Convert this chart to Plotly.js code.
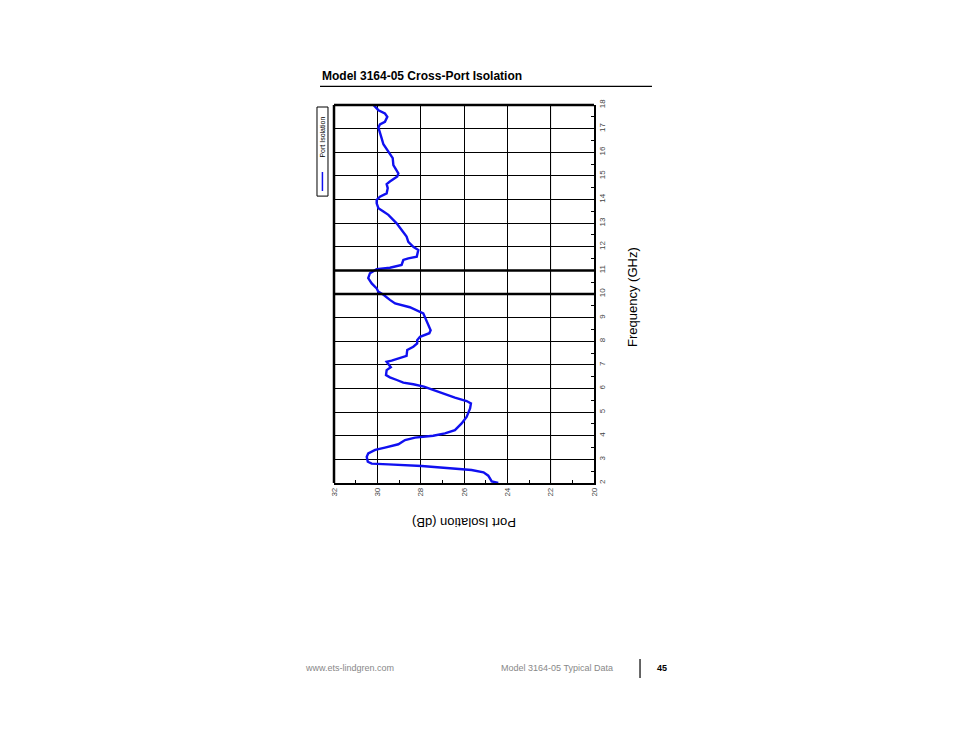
<!DOCTYPE html>
<html>
<head>
<meta charset="utf-8">
<script src="https://cdn.plot.ly/plotly-3.0.1.min.js"></script>
<style>html,body{margin:0;padding:0;background:#fff;}#chart{width:954px;height:738px;}</style>
</head>
<body>
<div id="chart"></div>
<script>
// Frequency (GHz) and port isolation (dB)
const frequencyGHz = [2.0, 2.07, 2.31, 2.45, 2.55, 2.62, 2.72, 2.79, 2.82, 2.9, 3.11, 3.25, 3.4, 3.5, 3.64, 3.82, 3.92, 4.0, 4.1, 4.24, 4.52, 4.8, 5.16, 5.37, 5.47, 5.61, 5.8, 5.94, 6.08, 6.18, 6.25, 6.36, 6.47, 6.57, 6.78, 6.9, 7.13, 7.18, 7.28, 7.38, 7.63, 7.77, 7.91, 8.05, 8.19, 8.34, 8.47, 8.83, 9.18, 9.44, 9.53, 9.6, 9.75, 9.96, 10.1, 10.24, 10.45, 10.67, 10.88, 11.05, 11.11, 11.23, 11.44, 11.51, 11.58, 11.86, 12.0, 12.21, 12.43, 12.64, 12.85, 12.99, 13.2, 13.35, 13.49, 13.63, 13.84, 13.98, 14.12, 14.26, 14.48, 14.65, 14.76, 14.97, 15.11, 15.29, 15.46, 15.75, 15.96, 16.17, 16.34, 16.59, 16.87, 17.04, 17.18, 17.29, 17.5, 17.64, 17.78, 17.92, 18.0];
const isolationDB = [24.42, 24.72, 24.88, 25.1, 25.65, 26.57, 27.95, 29.49, 30.26, 30.44, 30.49, 30.42, 30.1, 29.65, 29.03, 28.72, 28.26, 27.42, 26.88, 26.42, 26.11, 25.88, 25.72, 25.68, 25.88, 26.42, 27.03, 27.49, 27.85, 28.34, 28.8, 29.1, 29.42, 29.6, 29.57, 29.38, 29.57, 29.34, 29.03, 28.65, 28.62, 28.34, 28.16, 28.16, 28.03, 27.6, 27.54, 27.72, 27.88, 28.5, 28.95, 29.18, 29.42, 29.7, 29.96, 30.03, 30.26, 30.42, 30.34, 30.03, 29.42, 28.88, 28.8, 28.57, 28.18, 28.11, 28.34, 28.57, 28.65, 28.8, 28.99, 29.11, 29.34, 29.49, 29.72, 29.95, 30.03, 30.03, 29.88, 29.57, 29.52, 29.57, 29.42, 29.08, 29.03, 29.14, 29.26, 29.29, 29.45, 29.57, 29.72, 29.8, 29.88, 29.95, 29.88, 29.65, 29.54, 29.65, 29.95, 30.1, 30.18];
const seriesName = 'Port Isolation';
const isoTicks = [32, 30, 28, 26, 24, 22, 20];
const freqTicks = [2, 3, 4, 5, 6, 7, 8, 9, 10, 11, 12, 13, 14, 15, 16, 17, 18];
const heavyFreqLines = [10, 11];

const FONT = 'Liberation Sans, Arial, sans-serif';

const trace = {
  x: isolationDB, y: frequencyGHz, type: 'scatter', mode: 'lines', name: seriesName,
  line: {color: '#1010f0', width: 2.4}, showlegend: false
};

const shapes = [];
heavyFreqLines.forEach(f => shapes.push({type:'line', xref:'paper', yref:'y', x0:0, x1:1, y0:f, y1:f, line:{color:'#000', width:2.5}, layer:'above'}));
// gray 22 dB gridline
shapes.push({type:'line', xref:'x', yref:'paper', x0:22, x1:22, y0:0, y1:1, line:{color:'#888', width:1}, layer:'below'});
// thick top and left borders
shapes.push({type:'line', xref:'paper', yref:'paper', x0:0, x1:1, y0:1, y1:1, line:{color:'#000', width:2.5}});
shapes.push({type:'line', xref:'paper', yref:'paper', x0:0, x1:0, y0:0, y1:1, line:{color:'#000', width:2.5}});
// legend box and sample
shapes.push({type:'rect', xref:'paper', yref:'paper', x0:-0.0654, x1:-0.0231, y0:0.759, y1:0.9947, line:{color:'#000', width:1}});
shapes.push({type:'line', xref:'paper', yref:'paper', x0:-0.0445, x1:-0.0445, y0:0.7725, y1:0.8228, line:{color:'#1010f0', width:1.5}});
// title rule
shapes.push({type:'line', xref:'paper', yref:'paper', x0:-0.0538, x1:1.223, y0:1.0494, y1:1.0494, line:{color:'#000', width:1.2}});
// footer bar
shapes.push({type:'line', xref:'paper', yref:'paper', x0:1.177, x1:1.177, y0:-0.4656, y1:-0.5159, line:{color:'#000', width:1.2}});

const annotations = [
  {text:'<b>Model 3164-05 Cross-Port Isolation</b>', xref:'paper', yref:'paper', x:-0.0538, y:1.0767, xanchor:'left', yanchor:'middle', showarrow:false, font:{family:FONT, size:12, color:'#000'}},
  {text:'Port Isolation (dB)', xref:'paper', yref:'paper', x:0.5, y:-0.106, xanchor:'center', yanchor:'middle', textangle:180, showarrow:false, font:{family:FONT, size:13, color:'#000'}},
  {text:'Frequency (GHz)', xref:'paper', yref:'paper', x:1.146, y:0.492, xanchor:'center', yanchor:'middle', textangle:-90, showarrow:false, font:{family:FONT, size:13, color:'#000'}},
  {text:seriesName, xref:'paper', yref:'paper', x:-0.0445, y:0.915, xanchor:'center', yanchor:'middle', textangle:-90, showarrow:false, font:{family:FONT, size:7, color:'#000'}},
  {text:'www.ets-lindgren.com', xref:'paper', yref:'paper', x:0.0615, y:-0.4894, xanchor:'center', yanchor:'middle', showarrow:false, font:{family:FONT, size:9, color:'#888'}},
  {text:'Model 3164-05 Typical Data', xref:'paper', yref:'paper', x:0.8577, y:-0.4894, xanchor:'center', yanchor:'middle', showarrow:false, font:{family:FONT, size:9, color:'#888'}},
  {text:'<b>45</b>', xref:'paper', yref:'paper', x:1.262, y:-0.4894, xanchor:'center', yanchor:'middle', showarrow:false, font:{family:FONT, size:9, color:'#000'}}
];

const layout = {
  width: 954, height: 738,
  margin: {l:334, r:360, t:105, b:255, pad:0},
  paper_bgcolor:'#fff', plot_bgcolor:'#fff',
  showlegend:false,
  xaxis: {
    range:[32, 20], tickvals:isoTicks, ticktext:isoTicks.map(String), tickangle:-90,
    ticks:'inside', ticklen:5, tickcolor:'#000', tickwidth:1,
    minor:{dtick:1, ticks:'inside', ticklen:3, tickcolor:'#000', showgrid:false},
    showgrid:true, gridcolor:'#000', gridwidth:1,
    showline:true, linecolor:'#000', linewidth:1.5, mirror:false,
    zeroline:false, tickfont:{family:FONT, size:8, color:'#444'}
  },
  yaxis: {
    range:[2, 18], side:'right', tickvals:freqTicks, ticktext:freqTicks.map(String), tickangle:-90,
    ticks:'inside', ticklen:5, tickcolor:'#000', tickwidth:1,
    minor:{dtick:0.5, ticks:'inside', ticklen:3, tickcolor:'#000', showgrid:false},
    showgrid:true, gridcolor:'#000', gridwidth:1,
    showline:true, linecolor:'#000', linewidth:1.5, mirror:false,
    zeroline:false, tickfont:{family:FONT, size:8, color:'#444'}
  },
  shapes: shapes,
  annotations: annotations
};

Plotly.newPlot('chart', [trace], layout, {displayModeBar:false, staticPlot:true});
</script>
</body>
</html>
